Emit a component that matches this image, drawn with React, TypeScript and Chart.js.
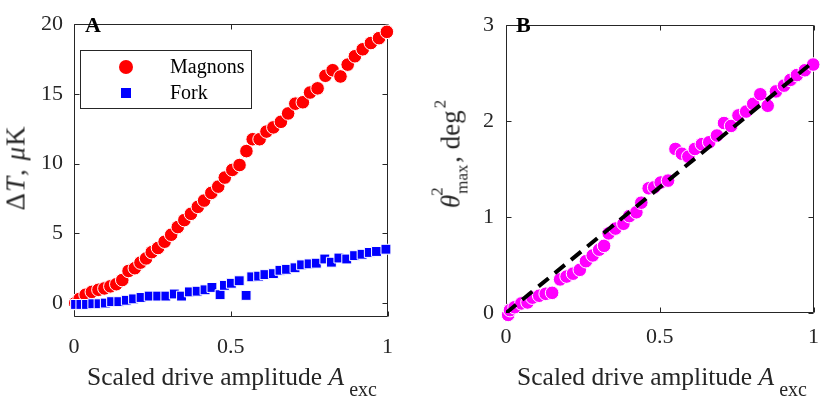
import React, { useEffect, useRef } from "react";
import { Chart, registerables } from "chart.js";

Chart.register(...registerables);

// ---------- Data ----------
const magnonX = [0.004, 0.018, 0.037, 0.057, 0.078, 0.097, 0.116, 0.135, 0.154, 0.174, 0.194, 0.212, 0.23, 0.248, 0.268, 0.289, 0.31, 0.331, 0.352, 0.373, 0.395, 0.415, 0.438, 0.46, 0.481, 0.505, 0.528, 0.55, 0.57, 0.592, 0.614, 0.636, 0.66, 0.683, 0.706, 0.73, 0.753, 0.777, 0.802, 0.825, 0.85, 0.873, 0.896, 0.921, 0.947, 0.973, 0.998];
const magnonY = [0.0, 0.3, 0.6, 0.8, 0.95, 1.05, 1.2, 1.35, 1.65, 2.3, 2.5, 2.9, 3.2, 3.65, 3.95, 4.4, 4.9, 5.45, 5.95, 6.4, 6.9, 7.35, 7.9, 8.35, 9.0, 9.55, 9.9, 10.9, 11.75, 11.75, 12.3, 12.6, 13.0, 13.6, 14.3, 14.4, 15.1, 15.4, 16.3, 16.7, 16.25, 17.1, 17.7, 18.2, 18.65, 19.0, 19.45];

const forkX = [0.005, 0.022, 0.04, 0.06, 0.08, 0.1, 0.12, 0.143, 0.167, 0.19, 0.214, 0.24, 0.267, 0.293, 0.32, 0.343, 0.368, 0.393, 0.418, 0.44, 0.466, 0.48, 0.502, 0.527, 0.549, 0.567, 0.589, 0.609, 0.636, 0.657, 0.678, 0.705, 0.726, 0.75, 0.773, 0.8, 0.821, 0.845, 0.87, 0.895, 0.919, 0.942, 0.965, 0.995];
const forkY = [-0.1, -0.1, -0.1, -0.05, -0.05, 0.0, 0.1, 0.1, 0.2, 0.3, 0.4, 0.5, 0.5, 0.5, 0.65, 0.5, 0.8, 0.85, 0.95, 1.12, 0.6, 1.27, 1.42, 1.6, 0.55, 1.88, 1.93, 2.04, 2.11, 2.35, 2.42, 2.53, 2.74, 2.81, 2.86, 3.16, 2.93, 3.23, 3.16, 3.4, 3.5, 3.63, 3.7, 3.86];

const thetaX = [0.007, 0.013, 0.028, 0.05, 0.07, 0.086, 0.108, 0.129, 0.15, 0.176, 0.197, 0.218, 0.24, 0.26, 0.282, 0.303, 0.319, 0.334, 0.356, 0.382, 0.401, 0.424, 0.44, 0.464, 0.482, 0.503, 0.527, 0.551, 0.572, 0.593, 0.614, 0.637, 0.661, 0.686, 0.709, 0.732, 0.756, 0.781, 0.804, 0.827, 0.851, 0.878, 0.904, 0.925, 0.946, 0.972, 0.999];
const thetaY = [-0.02, 0.03, 0.06, 0.1, 0.11, 0.16, 0.18, 0.2, 0.21, 0.35, 0.38, 0.41, 0.45, 0.54, 0.6, 0.66, 0.7, 0.83, 0.88, 0.93, 1.01, 1.05, 1.15, 1.3, 1.31, 1.36, 1.38, 1.71, 1.66, 1.63, 1.71, 1.76, 1.78, 1.85, 1.98, 1.95, 2.06, 2.1, 2.18, 2.28, 2.16, 2.31, 2.37, 2.43, 2.48, 2.53, 2.59];

const fitX = [0, 1];
const fitY = [0, 2.62];

const xTicks = [0, 0.5, 1];
const yTicksA = [0, 5, 10, 15, 20];
const yTicksB = [0, 1, 2, 3];

const AXIS = "#262626";
const SERIF = '"Liberation Serif", "Times New Roman", serif';

const pts = (xs: number[], ys: number[]) => xs.map((x, i) => ({ x, y: ys[i] }));

const boxPlugin = {
  id: "matlabBox",
  beforeDatasetsDraw(chart: any) {
    const { ctx, chartArea: a, scales } = chart;
    ctx.save();
    ctx.strokeStyle = AXIS;
    ctx.lineWidth = 1;
    const L = Math.round(a.left) + 0.5;
    const R = Math.round(a.right) - 0.5;
    const T = Math.round(a.top) + 0.5;
    const B = Math.round(a.bottom) - 0.5;
    ctx.beginPath();
    ctx.rect(L, T, R - L, B - T);
    const tl = 5;
    scales.x.ticks.forEach((t: any) => {
      const px = Math.round(scales.x.getPixelForValue(t.value)) + 0.5;
      ctx.moveTo(px, B);
      ctx.lineTo(px, B - tl);
      ctx.moveTo(px, T);
      ctx.lineTo(px, T + tl);
    });
    scales.y.ticks.forEach((t: any) => {
      const py = Math.round(scales.y.getPixelForValue(t.value)) + 0.5;
      ctx.moveTo(L, py);
      ctx.lineTo(L + tl, py);
      ctx.moveTo(R, py);
      ctx.lineTo(R - tl, py);
    });
    ctx.stroke();
    ctx.restore();
  },
};

function axisOpts(ticks: number[], min: number, max: number, fit: (s: any) => void, padding: number) {
  return {
    type: "linear" as const,
    min,
    max,
    afterBuildTicks: (s: any) => {
      s.ticks = ticks.map((v) => ({ value: v }));
    },
    afterFit: fit,
    grid: { display: false, drawTicks: false },
    border: { display: false },
    ticks: {
      font: { family: SERIF, size: 22 },
      color: AXIS,
      autoSkip: false,
      maxRotation: 0,
      padding,
      callback: (v: any) => String(v),
    },
  };
}

export default function App() {
  const refA = useRef<HTMLCanvasElement | null>(null);
  const refB = useRef<HTMLCanvasElement | null>(null);

  useEffect(() => {
    const chartA = new Chart(refA.current as HTMLCanvasElement, {
      type: "scatter",
      data: {
        datasets: [
          {
            label: "Fork",
            data: pts(forkX, forkY),
            pointStyle: "rect",
            pointRadius: 7,
            backgroundColor: "#0000ff",
            borderColor: "#ffffff",
            borderWidth: 1,
            order: 1,
            clip: false,
          } as any,
          {
            label: "Magnons",
            data: pts(magnonX, magnonY),
            pointStyle: "circle",
            pointRadius: 6.8,
            backgroundColor: "#ff0000",
            borderColor: "#ffffff",
            borderWidth: 1,
            order: 2,
            clip: false,
          } as any,
        ],
      },
      options: {
        animation: false,
        responsive: false,
        maintainAspectRatio: false,
        layout: { padding: { top: 15, right: 20, left: 0, bottom: 0 } },
        plugins: { legend: { display: false }, tooltip: { enabled: false } },
        scales: {
          x: axisOpts(xTicks, 0, 1, (s: any) => { s.height = 81; }, 17) as any,
          y: axisOpts(yTicksA, -1, 20, (s: any) => { s.width = 74; }, 11) as any,
        },
      },
      plugins: [boxPlugin],
    });

    const chartB = new Chart(refB.current as HTMLCanvasElement, {
      type: "scatter",
      data: {
        datasets: [
          {
            type: "line",
            label: "fit",
            data: pts(fitX, fitY),
            borderColor: "#000000",
            borderWidth: 4,
            borderDash: [13, 8],
            pointRadius: 0,
            fill: false,
            order: 1,
          } as any,
          {
            label: "theta",
            data: pts(thetaX, thetaY),
            pointStyle: "circle",
            pointRadius: 6.8,
            backgroundColor: "#ff00ff",
            borderColor: "#ffffff",
            borderWidth: 1,
            order: 2,
            clip: false,
          } as any,
        ],
      },
      options: {
        animation: false,
        responsive: false,
        maintainAspectRatio: false,
        layout: { padding: { top: 13, right: 8, left: 0, bottom: 0 } },
        plugins: { legend: { display: false }, tooltip: { enabled: false } },
        scales: {
          x: axisOpts(xTicks, 0, 1, (s: any) => { s.height = 85; }, 11) as any,
          y: axisOpts(yTicksB, 0, 3, (s: any) => { s.width = 86; }, 12) as any,
        },
      },
      plugins: [boxPlugin],
    });

    return () => {
      chartA.destroy();
      chartB.destroy();
    };
  }, []);

  const abs = (extra: React.CSSProperties): React.CSSProperties => ({
    position: "absolute",
    whiteSpace: "nowrap",
    lineHeight: 1,
    ...extra,
  });

  const xTitle = (cx: number) => (
    <div style={abs({ left: cx, top: 363.5, transform: "translateX(-50%)", fontSize: 25.5 })}>
      <span>Scaled drive amplitude </span>
      <i>A</i>
      <span style={{ fontSize: 20, position: "relative", top: 11, marginLeft: 5 }}>exc</span>
    </div>
  );

  return (
    <div
      style={{
        position: "absolute",
        left: 0,
        top: 0,
        width: 830,
        height: 398,
        overflow: "hidden",
        background: "#ffffff",
        fontFamily: SERIF,
        color: AXIS,
      }}
    >
      <canvas ref={refA} width={410} height={398} style={{ position: "absolute", left: 0, top: 0, width: 410, height: 398 }} />
      <canvas ref={refB} width={410} height={398} style={{ position: "absolute", left: 420, top: 0, width: 410, height: 398 }} />

      {/* Panel letters */}
      <div style={abs({ left: 85, top: 14, fontSize: 22, fontWeight: "bold", color: "#000" })}>A</div>
      <div style={abs({ left: 516, top: 14, fontSize: 22, fontWeight: "bold", color: "#000" })}>B</div>

      {/* Legend */}
      <div style={{ position: "absolute", left: 80, top: 50, width: 172, height: 59, boxSizing: "border-box", border: `1px solid ${AXIS}`, background: "#fff" }} />
      <div style={{ position: "absolute", left: 119, top: 60, width: 14, height: 14, borderRadius: 7, background: "#ff0000" }} />
      <div style={{ position: "absolute", left: 121, top: 88, width: 10, height: 10, background: "#0000ff" }} />
      <div style={abs({ left: 170, top: 56, fontSize: 20, color: "#000" })}>Magnons</div>
      <div style={abs({ left: 170, top: 82, fontSize: 20, color: "#000" })}>Fork</div>

      {/* Axis titles */}
      {xTitle(232)}
      {xTitle(662)}

      <div style={abs({ left: 16, top: 167.5, transform: "translate(-50%, -50%) rotate(-90deg)", fontSize: 27, letterSpacing: 1 })}>
        <span>Δ</span><i>T</i><span>, </span><i>μ</i><span>K</span>
      </div>

      <div style={abs({ left: 451, top: 154, transform: "translate(-50%, -50%) rotate(-90deg)", fontSize: 27 })}>
        <i>θ</i>
        <span style={{ display: "inline-block", position: "relative", width: 31, height: 0, marginLeft: 1 }}>
          <span style={{ position: "absolute", left: -2, top: -31, fontSize: 17 }}>2</span>
          <span style={{ position: "absolute", left: 0, top: -6, fontSize: 17 }}>max</span>
        </span>
        <span>, deg</span>
        <span style={{ fontSize: 17, position: "relative", top: -14, marginLeft: 2 }}>2</span>
      </div>
    </div>
  );
}
